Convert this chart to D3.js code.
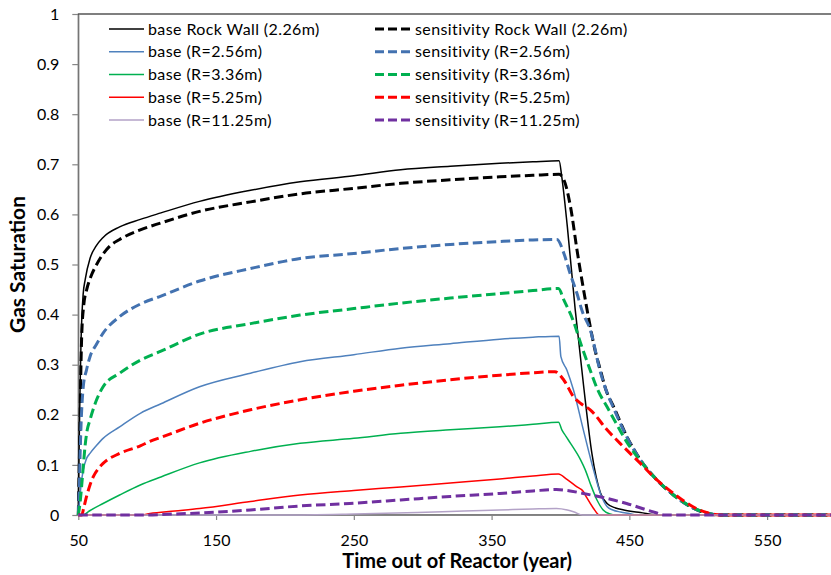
<!DOCTYPE html>
<html>
<head>
<meta charset="utf-8">
<script src="https://cdn.jsdelivr.net/npm/d3@7"></script>
<style>
  html, body { margin: 0; padding: 0; background: #fff; }
  svg { display: block; font-family: Lato, "Open Sans", sans-serif; }
</style>
</head>
<body>
<svg id="chart" width="831" height="575"></svg>
<script>
// ---- data (time in years, gas saturation) ----
const xTicks = [50, 150, 250, 350, 450, 550];
const yTicks = [0, 0.1, 0.2, 0.3, 0.4, 0.5, 0.6, 0.7, 0.8, 0.9, 1];

const baseRockWall = [[50,0],[50.5,0.12],[51.2,0.24],[52,0.35],[52.5,0.39],[53.5,0.44],[55,0.47],[58.5,0.512],[63,0.537],[68,0.554],[80,0.575],[95,0.59],[110,0.603],[138,0.626],[175,0.648],[211,0.665],[250,0.677],[284,0.689],[320,0.696],[356,0.702],[380,0.705],[399,0.707],[401,0.674],[405,0.575],[410.7,0.41],[416.7,0.26],[422.8,0.123],[428.9,0.045],[433.8,0.023],[440,0.014],[446,0.01],[458,0.005],[472,0],[600,0]];
const sensRockWall = [[50,0],[50.7,0.1],[51.2,0.17],[51.8,0.28],[52.5,0.36],[54,0.42],[56,0.449],[59,0.475],[63.3,0.5],[73,0.537],[80,0.55],[95,0.569],[110,0.583],[138,0.606],[175,0.625],[211,0.641],[250,0.652],[284,0.662],[320,0.669],[356,0.675],[380,0.678],[399,0.68],[402.5,0.669],[407.3,0.615],[412,0.529],[416.8,0.449],[421.6,0.376],[425,0.33],[429,0.289],[433,0.25],[438.6,0.216],[448.3,0.156],[458,0.11],[470,0.07],[482,0.04],[494,0.017],[502,0.007],[509,0.002],[515,0],[600,0]];
const baseR256 = [[50,0],[51,0.03],[52,0.06],[53.6,0.09],[56,0.113],[58.5,0.123],[63,0.138],[68,0.153],[80,0.176],[95,0.203],[110,0.222],[138,0.256],[175,0.283],[211,0.306],[250,0.32],[284,0.333],[320,0.342],[356,0.351],[380,0.355],[399,0.357],[400.3,0.316],[404.7,0.289],[409.5,0.249],[416.6,0.17],[424,0.09],[429,0.043],[433.8,0.017],[438,0.01],[443.5,0.006],[450,0.003],[456,0],[600,0]];
const sensR256 = [[50,0],[50.7,0.05],[51.3,0.12],[52,0.18],[53.6,0.256],[56,0.29],[58.5,0.316],[63,0.34],[68,0.363],[80,0.396],[95,0.421],[110,0.437],[138,0.467],[175,0.492],[211,0.512],[250,0.522],[284,0.532],[320,0.54],[356,0.546],[380,0.549],[397.5,0.55],[402.5,0.522],[407,0.482],[412,0.442],[416,0.405],[421.6,0.37],[429,0.285],[433,0.25],[438.6,0.213],[448.3,0.155],[458,0.11],[470,0.07],[482,0.04],[494,0.017],[502,0.007],[509,0.002],[515,0],[600,0]];
const baseR336 = [[50,0],[53.6,0],[58,0.008],[68,0.023],[80,0.04],[95,0.06],[110,0.076],[138,0.104],[175,0.127],[211,0.143],[250,0.153],[284,0.163],[320,0.17],[356,0.176],[380,0.181],[398.6,0.185],[401,0.17],[404,0.157],[407.3,0.143],[414.6,0.11],[418,0.09],[421.6,0.063],[426.5,0.03],[431,0.01],[436,0.002],[440,0],[600,0]];
const sensR336 = [[50,0],[51.5,0.03],[52.5,0.06],[54,0.11],[55,0.14],[56.5,0.17],[58.5,0.19],[63,0.228],[68,0.256],[80,0.283],[95,0.309],[110,0.327],[138,0.361],[175,0.382],[211,0.399],[250,0.412],[284,0.423],[320,0.433],[356,0.442],[380,0.448],[398.5,0.452],[402.5,0.429],[409.5,0.386],[415,0.34],[421.6,0.289],[427,0.25],[433.8,0.216],[440,0.185],[448.3,0.145],[458,0.108],[470,0.07],[482,0.04],[494,0.018],[502,0.008],[509,0.002],[515,0],[600,0]];
const baseR525 = [[50,0],[95,0],[102,0.003],[120,0.008],[138,0.013],[175,0.027],[211,0.04],[250,0.049],[284,0.056],[320,0.064],[356,0.072],[380,0.078],[398.5,0.082],[404.7,0.071],[412,0.056],[416.6,0.047],[419,0.035],[424,0.013],[427,0.002],[428,0],[600,0]];
const sensR525 = [[50,0],[52.5,0],[54,0.015],[56,0.037],[58.5,0.06],[61,0.077],[65,0.094],[68,0.103],[80,0.123],[95,0.138],[102,0.147],[110,0.155],[138,0.183],[175,0.21],[211,0.23],[250,0.247],[284,0.259],[320,0.27],[356,0.279],[380,0.284],[396,0.286],[402.5,0.269],[409.5,0.236],[415,0.222],[421.6,0.21],[433.8,0.17],[445.8,0.136],[458,0.103],[470,0.07],[482,0.043],[494,0.02],[500,0.011],[506,0.005],[512,0.001],[518,0],[600,0]];
const baseR1125 = [[50,0],[200,0],[250,0.002],[296,0.005],[330,0.008],[356,0.01],[380,0.012],[397,0.013],[405,0.01],[410,0.006],[416,0],[600,0]];
const sensR1125 = [[50,0],[100,0],[120,0.002],[138,0.004],[175,0.01],[211,0.018],[247,0.023],[284,0.03],[320,0.037],[356,0.043],[380,0.048],[397,0.051],[405,0.049],[416.6,0.043],[433.8,0.033],[448,0.023],[462.8,0.01],[470,0.004],[475,0],[600,0]];

const seriesNames = ["base Rock Wall (2.26m)", "sensitivity Rock Wall (2.26m)",
  "base (R=2.56m)", "sensitivity (R=2.56m)",
  "base (R=3.36m)", "sensitivity (R=3.36m)",
  "base (R=5.25m)", "sensitivity (R=5.25m)",
  "base (R=11.25m)", "sensitivity (R=11.25m)"];
const seriesData = [baseRockWall, sensRockWall, baseR256, sensR256, baseR336, sensR336, baseR525, sensR525, baseR1125, sensR1125];

// ---- styles ----
const colors = ["#000000", "#000000", "#4F81BD", "#4372B0", "#00B050", "#00B050", "#FF0000", "#FF0000", "#B3A2C7", "#7030A0"];
const dashed = [false, true, false, true, false, true, false, true, false, true];

const svg = d3.select("#chart");
const pLeft = 78.3, pRight = 836, pTop = 14, pBottom = 515;

const x = d3.scaleLinear().domain([50, 600]).range([pLeft, pRight]);
const y = d3.scaleLinear().domain([0, 1]).range([pBottom, pTop]);

// plot border
svg.append("rect")
  .attr("x", pLeft).attr("y", pTop)
  .attr("width", pRight - pLeft).attr("height", pBottom - pTop)
  .attr("fill", "none").attr("stroke", "#000").attr("stroke-width", 1);

// axes
const yAxis = d3.axisLeft(y).tickValues(yTicks).tickSize(6).tickSizeOuter(0).tickPadding(13)
  .tickFormat(d => String(+d.toFixed(1)));
const xAxis = d3.axisBottom(x).tickValues(xTicks).tickSize(5).tickSizeOuter(0).tickPadding(15)
  .tickFormat(d => String(d));

const gy = svg.append("g").attr("transform", `translate(${pLeft},0)`).call(yAxis);
const gx = svg.append("g").attr("transform", `translate(0,${pBottom})`).call(xAxis);
[gx, gy].forEach(g => {
  g.select(".domain").attr("stroke", "#868686").attr("stroke-width", 1.2);
  g.selectAll(".tick line").attr("stroke", "#868686").attr("stroke-width", 1.2);
  g.selectAll(".tick text").attr("fill", "#000").style("font-size", "16px").style("font-family", "Lato, 'Open Sans', sans-serif");
});

// lines
const line = d3.line().x(d => x(d[0])).y(d => y(d[1])).curve(d3.curveMonotoneX);
const gLines = svg.append("g");
seriesData.forEach((data, i) => {
  gLines.append("path")
    .datum(data)
    .attr("d", line)
    .attr("fill", "none")
    .attr("stroke", colors[i])
    .attr("stroke-width", dashed[i] ? 3 : 1.5)
    .attr("stroke-dasharray", dashed[i] ? "9.5,4.5" : null)
    .attr("stroke-linejoin", "round");
});

// legend
const leg = svg.append("g");
seriesNames.forEach((name, i) => {
  const col = i % 2, row = Math.floor(i / 2);
  const lx = col === 0 ? 109 : 375;
  const tx = col === 0 ? 148 : 415;
  const ly = 29 + row * 22.75;
  leg.append("line")
    .attr("x1", lx).attr("x2", lx + 35)
    .attr("y1", ly).attr("y2", ly)
    .attr("stroke", colors[i])
    .attr("stroke-width", dashed[i] ? 3 : 1.5)
    .attr("stroke-dasharray", dashed[i] ? "9,4" : null);
  leg.append("text")
    .attr("x", tx).attr("y", ly + 5.5)
    .style("font-size", "16px")
    .style("letter-spacing", "0.4px")
    .attr("fill", "#000")
    .text(name);
});

// axis titles
function fitText(sel, target) {
  const len = sel.node().getComputedTextLength();
  const fs = parseFloat(sel.style("font-size"));
  if (len > 0) sel.style("font-size", (fs * target / len) + "px");
}
const xt = svg.append("text")
  .attr("x", (pLeft + pRight) / 2).attr("y", 568)
  .attr("text-anchor", "middle")
  .style("font-size", "18px").style("font-weight", "bold")
  .text("Time out of Reactor (year)");
fitText(xt, 230);

const yt = svg.append("text")
  .attr("transform", `translate(25,${(pTop + pBottom) / 2}) rotate(-90)`)
  .attr("text-anchor", "middle")
  .style("font-size", "18px").style("font-weight", "bold")
  .text("Gas Saturation");
fitText(yt, 137);
</script>
</body>
</html>
